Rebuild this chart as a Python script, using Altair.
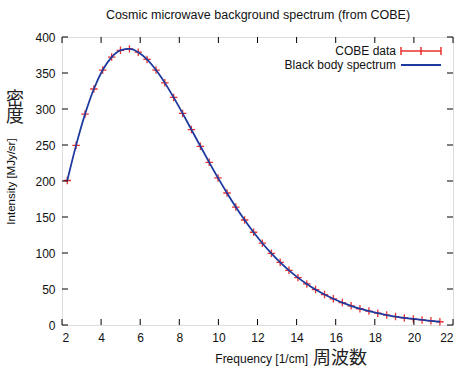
import altair as alt
import pandas as pd

# COBE FIRAS data
freq = [2.27, 2.72, 3.18, 3.63, 4.08, 4.54, 4.99, 5.45, 5.90, 6.35, 6.81, 7.26,
        7.71, 8.17, 8.62, 9.08, 9.53, 9.98, 10.44, 10.89, 11.34, 11.80, 12.25,
        12.71, 13.16, 13.61, 14.07, 14.52, 14.97, 15.43, 15.88, 16.34, 16.79,
        17.24, 17.70, 18.15, 18.61, 19.06, 19.51, 19.97, 20.42, 20.87, 21.33]
intensity = [200.7, 249.5, 293.0, 327.8, 354.1, 372.1, 381.5, 383.5, 378.9,
             368.8, 354.1, 336.3, 316.1, 293.9, 271.4, 248.2, 225.9, 204.3,
             183.3, 163.8, 145.8, 128.8, 113.6, 99.5, 87.0, 75.9, 65.8, 57.0,
             49.2, 42.3, 36.4, 31.1, 26.6, 22.6, 19.3, 16.4, 13.8, 11.7, 9.9,
             8.4, 7.1, 5.8, 4.5]
x_ticks = [2, 4, 6, 8, 10, 12, 14, 16, 18, 20, 22]
y_ticks = [0, 50, 100, 150, 200, 250, 300, 350, 400]

W, H = 391, 288
RED = "#e8322e"
BLUE = "#1f3a9e"
FONT = "Liberation Sans"
CJK = "Noto Sans CJK JP"

df = pd.DataFrame({"freq": freq, "intensity": intensity})
xt = pd.DataFrame({"v": x_ticks})
yt = pd.DataFrame({"v": y_ticks})

xs = alt.Scale(domain=[2, 22], nice=False, zero=False)
ys = alt.Scale(domain=[0, 400], nice=False)

xaxis = alt.Axis(values=x_ticks, ticks=False, domain=False, grid=False, title=None,
                 labelFont=FONT, labelFontSize=12, labelColor="#111", labelPadding=7,
                 labelOverlap=False, format="d")
yaxis = alt.Axis(values=y_ticks, ticks=False, domain=False, grid=False,
                 title="Intensity [MJy/sr]", titleFont=FONT, titleFontSize=11.5,
                 titleFontWeight="normal", titleColor="#111", titleX=-51, titleY=144,
                 titleAngle=270, titleAlign="center", titleBaseline="middle",
                 labelFont=FONT, labelFontSize=12, labelColor="#111", labelPadding=7,
                 labelOverlap=False, format="d")

points = alt.Chart(df).mark_point(
    shape="M-1,0L1,0M0,-1L0,1", size=56, color=RED, strokeWidth=1.3, filled=False, opacity=1
).encode(
    x=alt.X("freq:Q", scale=xs, axis=xaxis),
    y=alt.Y("intensity:Q", scale=ys, axis=yaxis),
)

line = alt.Chart(df).mark_line(color=BLUE, strokeWidth=1.8, interpolate="monotone").encode(
    x=alt.X("freq:Q", scale=xs, axis=xaxis),
    y=alt.Y("intensity:Q", scale=ys, axis=yaxis),
)

TL = 6
xticks_bot = alt.Chart(xt).mark_rule(color="black", strokeWidth=1).encode(
    x=alt.X("v:Q", scale=xs, axis=xaxis), y=alt.value(H), y2=alt.value(H - TL))
xticks_top = alt.Chart(xt).mark_rule(color="black", strokeWidth=1).encode(
    x=alt.X("v:Q", scale=xs, axis=xaxis), y=alt.value(0), y2=alt.value(TL))
yticks_l = alt.Chart(yt).mark_rule(color="black", strokeWidth=1).encode(
    y=alt.Y("v:Q", scale=ys, axis=yaxis), x=alt.value(0), x2=alt.value(TL))
yticks_r = alt.Chart(yt).mark_rule(color="black", strokeWidth=1).encode(
    y=alt.Y("v:Q", scale=ys, axis=yaxis), x=alt.value(W), x2=alt.value(W - TL))

_n = [0]
def one():
    _n[0] += 1
    return pd.DataFrame({"k": [_n[0]]})

def txt(text, x, y, size, font=FONT, align="center", color="#111", lh=None):
    kw = dict(text=text, font=font, fontSize=size, align=align, baseline="middle",
              color=color, angle=0)
    if lh:
        kw["lineHeight"] = lh
    return alt.Chart(one()).mark_text(**kw).encode(x=alt.value(x), y=alt.value(y))

def seg(x0, x1, y0, y1, color, sw):
    return alt.Chart(one()).mark_rule(color=color, strokeWidth=sw).encode(
        x=alt.value(x0), x2=alt.value(x1), y=alt.value(y0), y2=alt.value(y1))

title = txt("Cosmic microwave background spectrum (from COBE)", 196, -22, 12.5)
xtitle = txt("Frequency [1/cm]", 246, 322, 12, align="right")
xtitle_jp = txt("周波数", 251, 322, 18, font=CJK, align="left", color="#222")
ytitle_jp = txt(["密", "度"], -47, 63, 18, font=CJK, color="#222", lh=17)

# legend
LX0, LX1 = 339, 379
LXM = (LX0 + LX1) / 2
leg_t1 = txt("COBE data", 334, 14, 12, align="right")
leg_t2 = txt("Black body spectrum", 334, 28, 12, align="right")
leg_red = seg(LX0, LX1, 14, 14, RED, 1.5)
cap1 = seg(LX0, LX0, 10, 18, RED, 1.5)
cap2 = seg(LXM, LXM, 10, 18, RED, 1.5)
cap3 = seg(LX1, LX1, 10, 18, RED, 1.5)
leg_blue = seg(LX0, LX1, 28, 28, BLUE, 2)

chart = alt.layer(
    points, line, xticks_bot, xticks_top, yticks_l, yticks_r,
    title, xtitle, xtitle_jp, ytitle_jp,
    leg_t1, leg_t2, leg_red, cap1, cap2, cap3, leg_blue,
).properties(
    width=W, height=H,
    autosize=alt.AutoSizeParams(type="none"),
    padding={"left": 62, "top": 37, "right": 5, "bottom": 44},
).configure_view(stroke="black", strokeWidth=1.2).configure_axis(
    labelOverlap=False
).configure(background="white")

chart.save("out.html", embed_options={"renderer": "svg", "actions": False})
